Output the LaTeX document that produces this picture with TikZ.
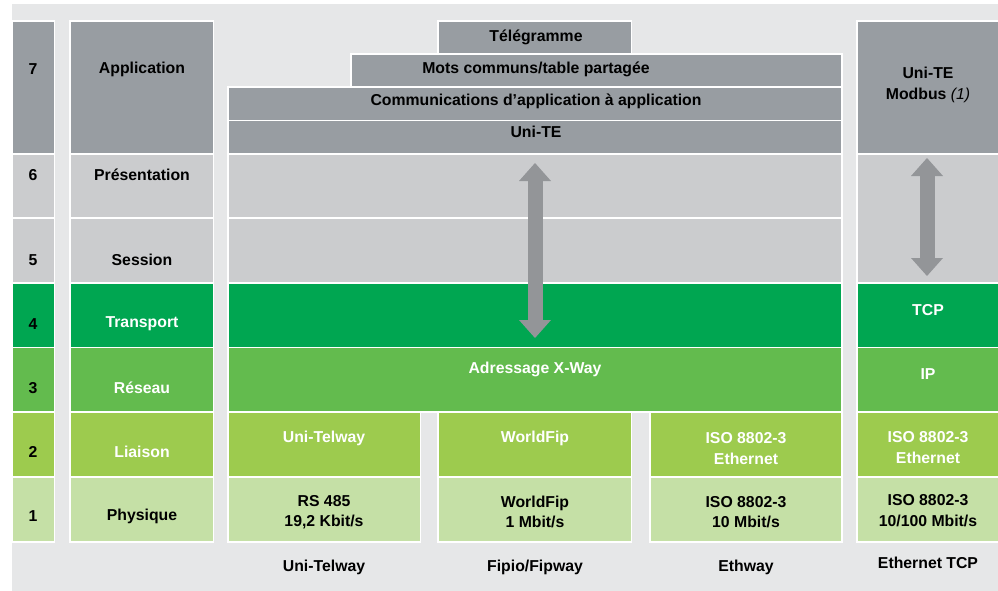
\documentclass[tikz,border=0pt]{standalone}
\usepackage{fontspec}
\setmainfont{Liberation Sans}
\usetikzlibrary{arrows.meta}
\definecolor{bggray}{HTML}{E6E7E8}
\definecolor{dkgray}{HTML}{989DA2}
\definecolor{ltgray}{HTML}{CBCCCE}
\definecolor{arrgray}{HTML}{939598}
\definecolor{grA}{HTML}{00A651}
\definecolor{grB}{HTML}{63BB4E}
\definecolor{grC}{HTML}{9DCB4E}
\definecolor{grD}{HTML}{C5E0A6}
\newcommand{\layerbox}[5]{\fill[#5,draw=white,line width=1.5pt] (#1,#2) rectangle (#3,#4);}
\tikzset{lbl/.style={font=\bfseries\fontsize{15.8}{20.5}\selectfont,align=center,inner sep=0pt},
  wlbl/.style={lbl,text=white},
  updown/.style={draw=arrgray,line width=15pt,{Triangle[length=18pt,width=32pt,line width=0pt]}-{Triangle[length=18pt,width=32pt,line width=0pt]}}}

\begin{document}
\begin{tikzpicture}[x=1pt,y=-1pt]
\useasboundingbox (0,0) rectangle (998,591);
\fill[bggray] (12,4) rectangle (998,591);
% couches OSI
\foreach \ya/\yb/\c in {21/154/dkgray,154/218/ltgray,218/283/ltgray,283/347.5/grA,347.5/412/grB,412/477/grC,477/542/grD}{
  \layerbox{12}{\ya}{54.5}{\yb}{\c}\layerbox{70}{\ya}{213.5}{\yb}{\c}}
\foreach \n/\y/\name/\tc in {7/69/Application/black,6/175/Présentation/black,5/260/Session/black,4/324/Transport/white,3/388/Réseau/white,2/452/Liaison/white,1/516/Physique/black}{
  \node[lbl] (num\n) at (33,\y) {\n};\node[lbl,text=\tc] (layer\n) at (142,\y) {\name};}
% colonne X-Way
\layerbox{438}{21}{631.5}{54}{dkgray}\layerbox{351}{54}{842}{87}{dkgray}
\layerbox{228}{87}{842}{120.5}{dkgray}\layerbox{228}{120.5}{842}{154}{dkgray}
\layerbox{228}{154}{842}{218}{ltgray}\layerbox{228}{218}{842}{283}{ltgray}
\layerbox{228}{283}{842}{347.5}{grA}\layerbox{228}{347.5}{842}{412}{grB}
\foreach \xa/\xb in {228/420.5,438/631.5,650/842}{\layerbox{\xa}{412}{\xb}{477}{grC}\layerbox{\xa}{477}{\xb}{542}{grD}}
\node[lbl] (tele) at (536,37) {Télégramme};
\node[lbl] (mots) at (536,69) {Mots communs/table partagée};
\node[lbl] (comm) at (536,101) {Communications d’application à application};
\node[lbl] (unite) at (536,132) {Uni-TE};
\node[wlbl] (xway) at (535,369) {Adressage X-Way};
\node[wlbl] (utlink) at (324,438) {Uni-Telway};
\node[wlbl] (wflink) at (535,438) {WorldFip};
\node[wlbl] (ethlink) at (746,448.5) {ISO 8802-3\\Ethernet};
\node[lbl] (utphy) at (324,512) {RS 485\\19,2 Kbit/s};
\node[lbl] (wfphy) at (535,512) {WorldFip\\1 Mbit/s};
\node[lbl] (ethphy) at (746,512) {ISO 8802-3\\10 Mbit/s};
\node[lbl] (utnet) at (324,567) {Uni-Telway};
\node[lbl] (wfnet) at (535,567) {Fipio/Fipway};
\node[lbl] (ethnet) at (746,567) {Ethway};
\coordinate (xtop) at (535,163);\coordinate (xbot) at (535,338);
\draw[updown] (xtop) -- (xbot);
% colonne Ethernet TCP
\layerbox{857}{21}{1000}{154}{dkgray}\layerbox{857}{154}{1000}{283}{ltgray}
\layerbox{857}{283}{1000}{347.5}{grA}\layerbox{857}{347.5}{1000}{412}{grB}
\layerbox{857}{412}{1000}{477}{grC}\layerbox{857}{477}{1000}{542}{grD}
\node[lbl] (modbus) at (928,85) {Uni-TE\\Modbus \textnormal{\itshape(1)}};
\node[wlbl] (tcp) at (928,310) {TCP};
\node[wlbl] (ip) at (928,374) {IP};
\node[wlbl] (tcplink) at (928,447.5) {ISO 8802-3\\Ethernet};
\node[lbl] (tcpphy) at (928,510.5) {ISO 8802-3\\10/100 Mbit/s};
\node[lbl] (tcpnet) at (928,563) {Ethernet TCP};
\coordinate (ttop) at (927,158);\coordinate (tbot) at (927,276);
\draw[updown] (ttop) -- (tbot);
\end{tikzpicture}
\end{document}
